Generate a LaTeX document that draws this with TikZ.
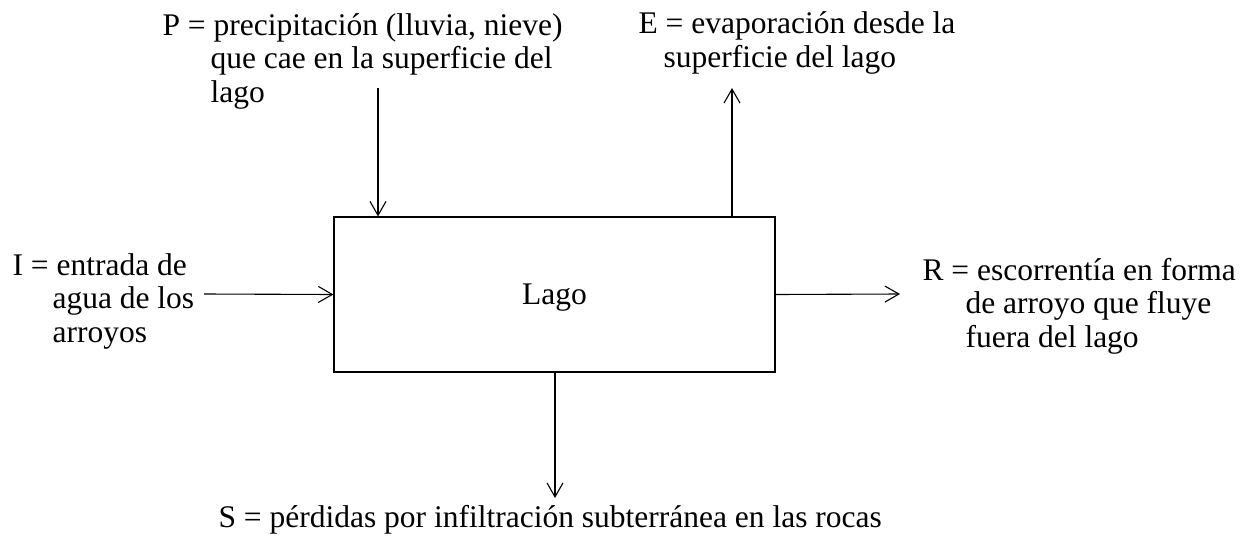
\documentclass[tikz,border=0pt]{standalone}
\usepackage{fontspec}
\setmainfont{Liberation Serif}
\usetikzlibrary{arrows.meta,calc}
\begin{document}
\begin{tikzpicture}[x=1pt,y=-1pt,line width=1.1pt,
  txt/.style={font=\fontsize{31.5}{33.5}\selectfont},
  flow/.style={-{Straight Barb[length=14pt,width=16pt,line width=1.1pt]}},
  lbl/.style={txt,anchor=base west,inner sep=0pt,align=left}]
\useasboundingbox (0,0) rectangle (1256,541);
\node[draw,txt,minimum width=441pt,minimum height=155pt,inner sep=0pt,text depth=0pt] (lake) at (554.5,294.5) {Lago};
\node[lbl] (P) at (162,102) {P = precipitación (lluvia, nieve)\\\hspace*{48pt}que cae en la superficie del\\\hspace*{48pt}lago};
\node[lbl] (E) at (638,67) {E = evaporación desde la\\\hspace*{25pt}superficie del lago};
\node[lbl] (I) at (12,342) {I = entrada de\\\hspace*{40pt}agua de los\\\hspace*{40pt}arroyos};
\node[lbl] (R) at (922,347) {R = escorrentía en forma\\\hspace*{43pt}de arroyo que fluye\\\hspace*{43pt}fuera del lago};
\node[lbl] (S) at (218,527) {S = pérdidas por infiltración subterránea en las rocas};
\coordinate (pstart) at (378,88);
\coordinate (etip) at (732,88);
\coordinate (istart) at (204,294);
\coordinate (rtip) at (900,294);
\coordinate (stip) at (555,498);
\draw[flow] (pstart) -- (pstart |- lake.north);
\draw[flow] (etip |- lake.north) -- (etip);
\draw[flow] (istart) -- (lake.west);
\draw[flow] (lake.east) -- (rtip);
\draw[flow] (stip |- lake.south) -- (stip);
\end{tikzpicture}
\end{document}
